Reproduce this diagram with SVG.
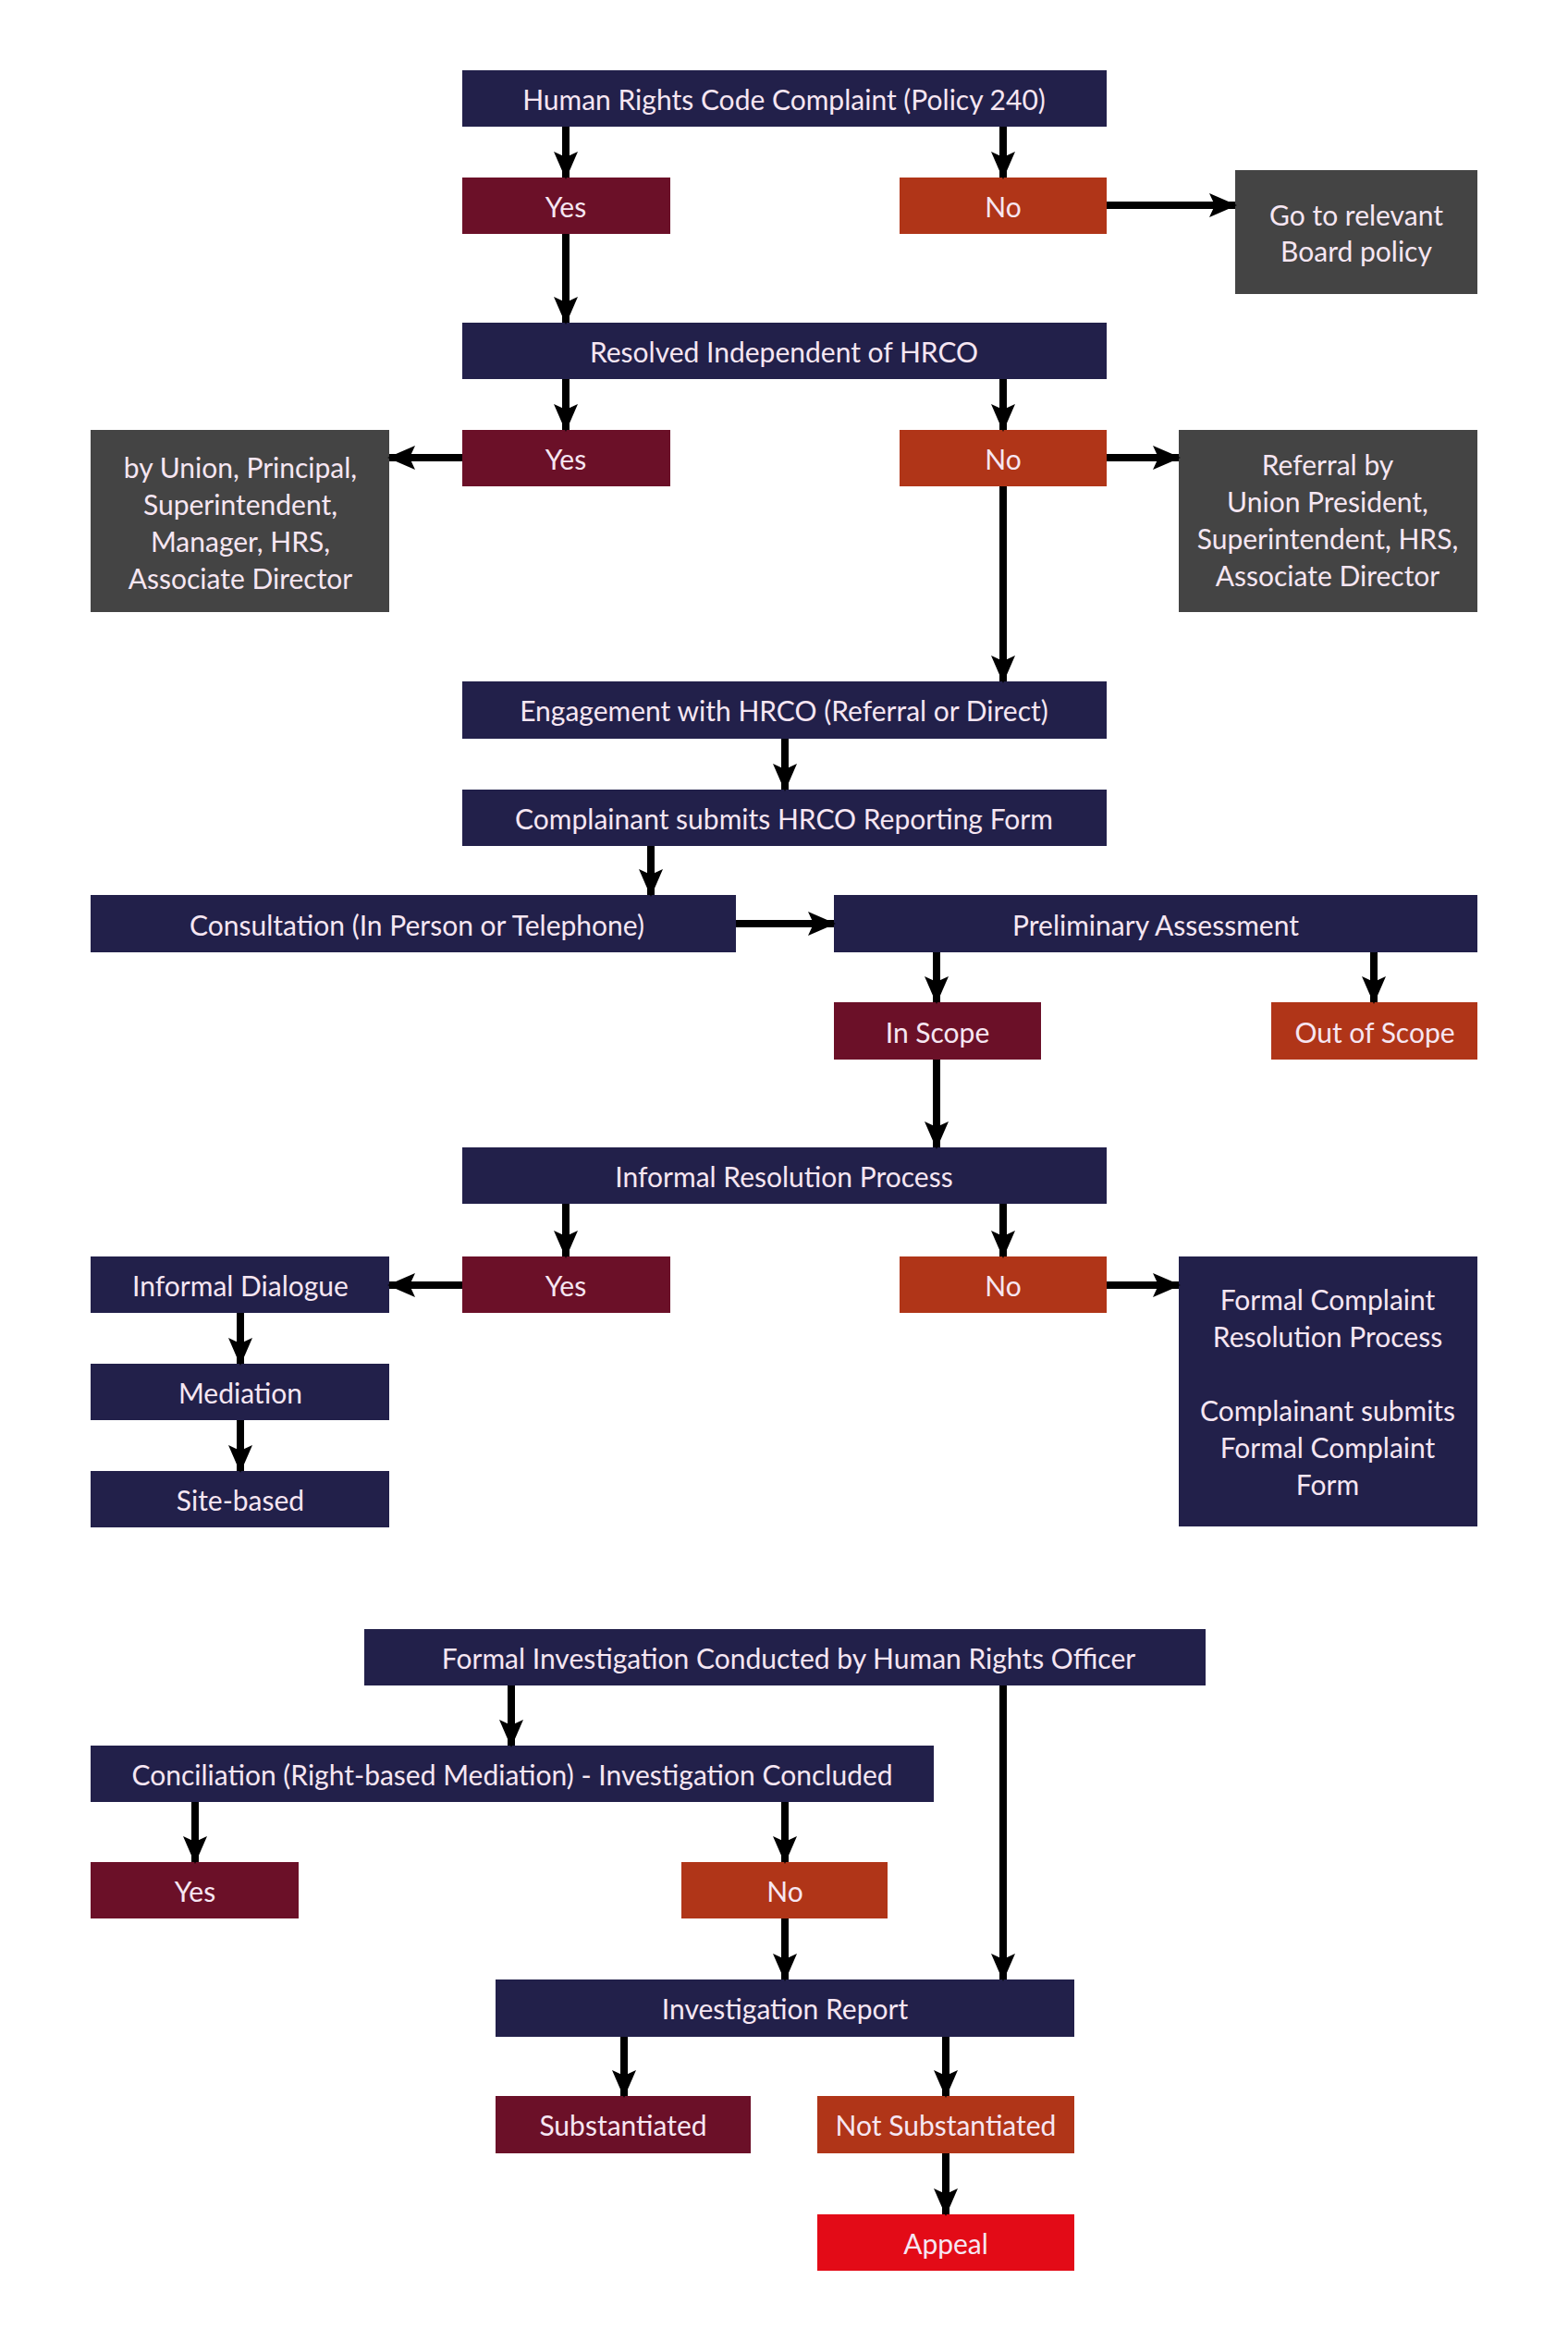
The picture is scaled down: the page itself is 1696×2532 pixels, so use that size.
<svg xmlns="http://www.w3.org/2000/svg" width="1696" height="2532" viewBox="0 0 1696 2532">
<style>
text{font-family:Lato,"Open Sans","Liberation Sans",sans-serif;font-size:30px;fill:#f6e6f2;text-anchor:middle;dominant-baseline:central}
.n{fill:#22204a}.y{fill:#6b1028}.o{fill:#b03518}.g{fill:#444444}.r{fill:#e30b17}
#conn line{stroke:#000;stroke-width:8;marker-end:url(#ah)}
</style>
<defs><marker id="ah" markerUnits="userSpaceOnUse" markerWidth="30" markerHeight="30" viewBox="0 0 30 30" refX="28" refY="15" orient="auto"><path d="M0,2 L30,15 L0,28 L6,15 Z" fill="#000"/></marker></defs>
<rect width="1696" height="2532" fill="#fff"/>
<g id="hrcc"><rect class="n" x="500" y="76" width="697" height="61"/><text x="848" y="107">Human Rights Code Complaint (Policy 240)</text></g>
<g id="yes1"><rect class="y" x="500" y="192" width="225" height="61"/><text x="612" y="223">Yes</text></g>
<g id="no1"><rect class="o" x="973" y="192" width="224" height="61"/><text x="1085" y="223">No</text></g>
<g id="goto"><rect class="g" x="1336" y="184" width="262" height="134"/><text x="1467" y="232">Go to relevant</text><text x="1467" y="271">Board policy</text></g>
<g id="resolved"><rect class="n" x="500" y="349" width="697" height="61"/><text x="848" y="380">Resolved Independent of HRCO</text></g>
<g id="yes2"><rect class="y" x="500" y="465" width="225" height="61"/><text x="612" y="496">Yes</text></g>
<g id="no2"><rect class="o" x="973" y="465" width="224" height="61"/><text x="1085" y="496">No</text></g>
<g id="byunion"><rect class="g" x="98" y="465" width="323" height="197"/><text x="260" y="505">by Union, Principal,</text><text x="260" y="545">Superintendent,</text><text x="260" y="585">Manager, HRS,</text><text x="260" y="625">Associate Director</text></g>
<g id="referral"><rect class="g" x="1275" y="465" width="323" height="197"/><text x="1436" y="502">Referral by</text><text x="1436" y="542">Union President,</text><text x="1436" y="582">Superintendent, HRS,</text><text x="1436" y="622">Associate Director</text></g>
<g id="engage"><rect class="n" x="500" y="737" width="697" height="62"/><text x="848" y="768">Engagement with HRCO (Referral or Direct)</text></g>
<g id="submits"><rect class="n" x="500" y="854" width="697" height="61"/><text x="848" y="885">Complainant submits HRCO Reporting Form</text></g>
<g id="consult"><rect class="n" x="98" y="968" width="698" height="62"/><text x="451" y="1000">Consultation (In Person or Telephone)</text></g>
<g id="prelim"><rect class="n" x="902" y="968" width="696" height="62"/><text x="1250" y="1000">Preliminary Assessment</text></g>
<g id="inscope"><rect class="y" x="902" y="1084" width="224" height="62"/><text x="1014" y="1116">In Scope</text></g>
<g id="outscope"><rect class="o" x="1375" y="1084" width="223" height="62"/><text x="1487" y="1116">Out of Scope</text></g>
<g id="informal"><rect class="n" x="500" y="1241" width="697" height="61"/><text x="848" y="1272">Informal Resolution Process</text></g>
<g id="dialogue"><rect class="n" x="98" y="1359" width="323" height="61"/><text x="260" y="1390">Informal Dialogue</text></g>
<g id="yes3"><rect class="y" x="500" y="1359" width="225" height="61"/><text x="612" y="1390">Yes</text></g>
<g id="no3"><rect class="o" x="973" y="1359" width="224" height="61"/><text x="1085" y="1390">No</text></g>
<g id="formal"><rect class="n" x="1275" y="1359" width="323" height="292"/><text x="1436" y="1405">Formal Complaint</text><text x="1436" y="1445">Resolution Process</text><text x="1436" y="1525">Complainant submits</text><text x="1436" y="1565">Formal Complaint</text><text x="1436" y="1605">Form</text></g>
<g id="mediation"><rect class="n" x="98" y="1475" width="323" height="61"/><text x="260" y="1506">Mediation</text></g>
<g id="site"><rect class="n" x="98" y="1591" width="323" height="61"/><text x="260" y="1622">Site-based</text></g>
<g id="finv"><rect class="n" x="394" y="1762" width="910" height="61"/><text x="853" y="1793">Formal Investigation Conducted by Human Rights Officer</text></g>
<g id="concil"><rect class="n" x="98" y="1888" width="912" height="61"/><text x="554" y="1919">Conciliation (Right-based Mediation) - Investigation Concluded</text></g>
<g id="yes4"><rect class="y" x="98" y="2014" width="225" height="61"/><text x="211" y="2045">Yes</text></g>
<g id="no4"><rect class="o" x="737" y="2014" width="223" height="61"/><text x="849" y="2045">No</text></g>
<g id="report"><rect class="n" x="536" y="2141" width="626" height="62"/><text x="849" y="2172">Investigation Report</text></g>
<g id="subst"><rect class="y" x="536" y="2267" width="276" height="62"/><text x="674" y="2298">Substantiated</text></g>
<g id="notsubst"><rect class="o" x="884" y="2267" width="278" height="62"/><text x="1023" y="2298">Not Substantiated</text></g>
<g id="appeal"><rect class="r" x="884" y="2395" width="278" height="61"/><text x="1023" y="2426">Appeal</text></g>
<g id="conn">
<line x1="612" y1="137" x2="612" y2="192"/>
<line x1="1085" y1="137" x2="1085" y2="192"/>
<line x1="1197" y1="222" x2="1336" y2="222"/>
<line x1="612" y1="253" x2="612" y2="349"/>
<line x1="612" y1="410" x2="612" y2="465"/>
<line x1="1085" y1="410" x2="1085" y2="465"/>
<line x1="500" y1="495" x2="421" y2="495"/>
<line x1="1197" y1="495" x2="1275" y2="495"/>
<line x1="1085" y1="526" x2="1085" y2="737"/>
<line x1="849" y1="799" x2="849" y2="854"/>
<line x1="704" y1="915" x2="704" y2="968"/>
<line x1="796" y1="999" x2="902" y2="999"/>
<line x1="1013" y1="1030" x2="1013" y2="1084"/>
<line x1="1486" y1="1030" x2="1486" y2="1084"/>
<line x1="1013" y1="1146" x2="1013" y2="1241"/>
<line x1="612" y1="1302" x2="612" y2="1359"/>
<line x1="1085" y1="1302" x2="1085" y2="1359"/>
<line x1="500" y1="1390" x2="421" y2="1390"/>
<line x1="1197" y1="1390" x2="1275" y2="1390"/>
<line x1="260" y1="1420" x2="260" y2="1475"/>
<line x1="260" y1="1536" x2="260" y2="1591"/>
<line x1="553" y1="1823" x2="553" y2="1888"/>
<line x1="1085" y1="1823" x2="1085" y2="2141"/>
<line x1="211" y1="1949" x2="211" y2="2014"/>
<line x1="849" y1="1949" x2="849" y2="2014"/>
<line x1="849" y1="2075" x2="849" y2="2141"/>
<line x1="675" y1="2203" x2="675" y2="2267"/>
<line x1="1023" y1="2203" x2="1023" y2="2267"/>
<line x1="1023" y1="2329" x2="1023" y2="2395"/>
</g>
</svg>
